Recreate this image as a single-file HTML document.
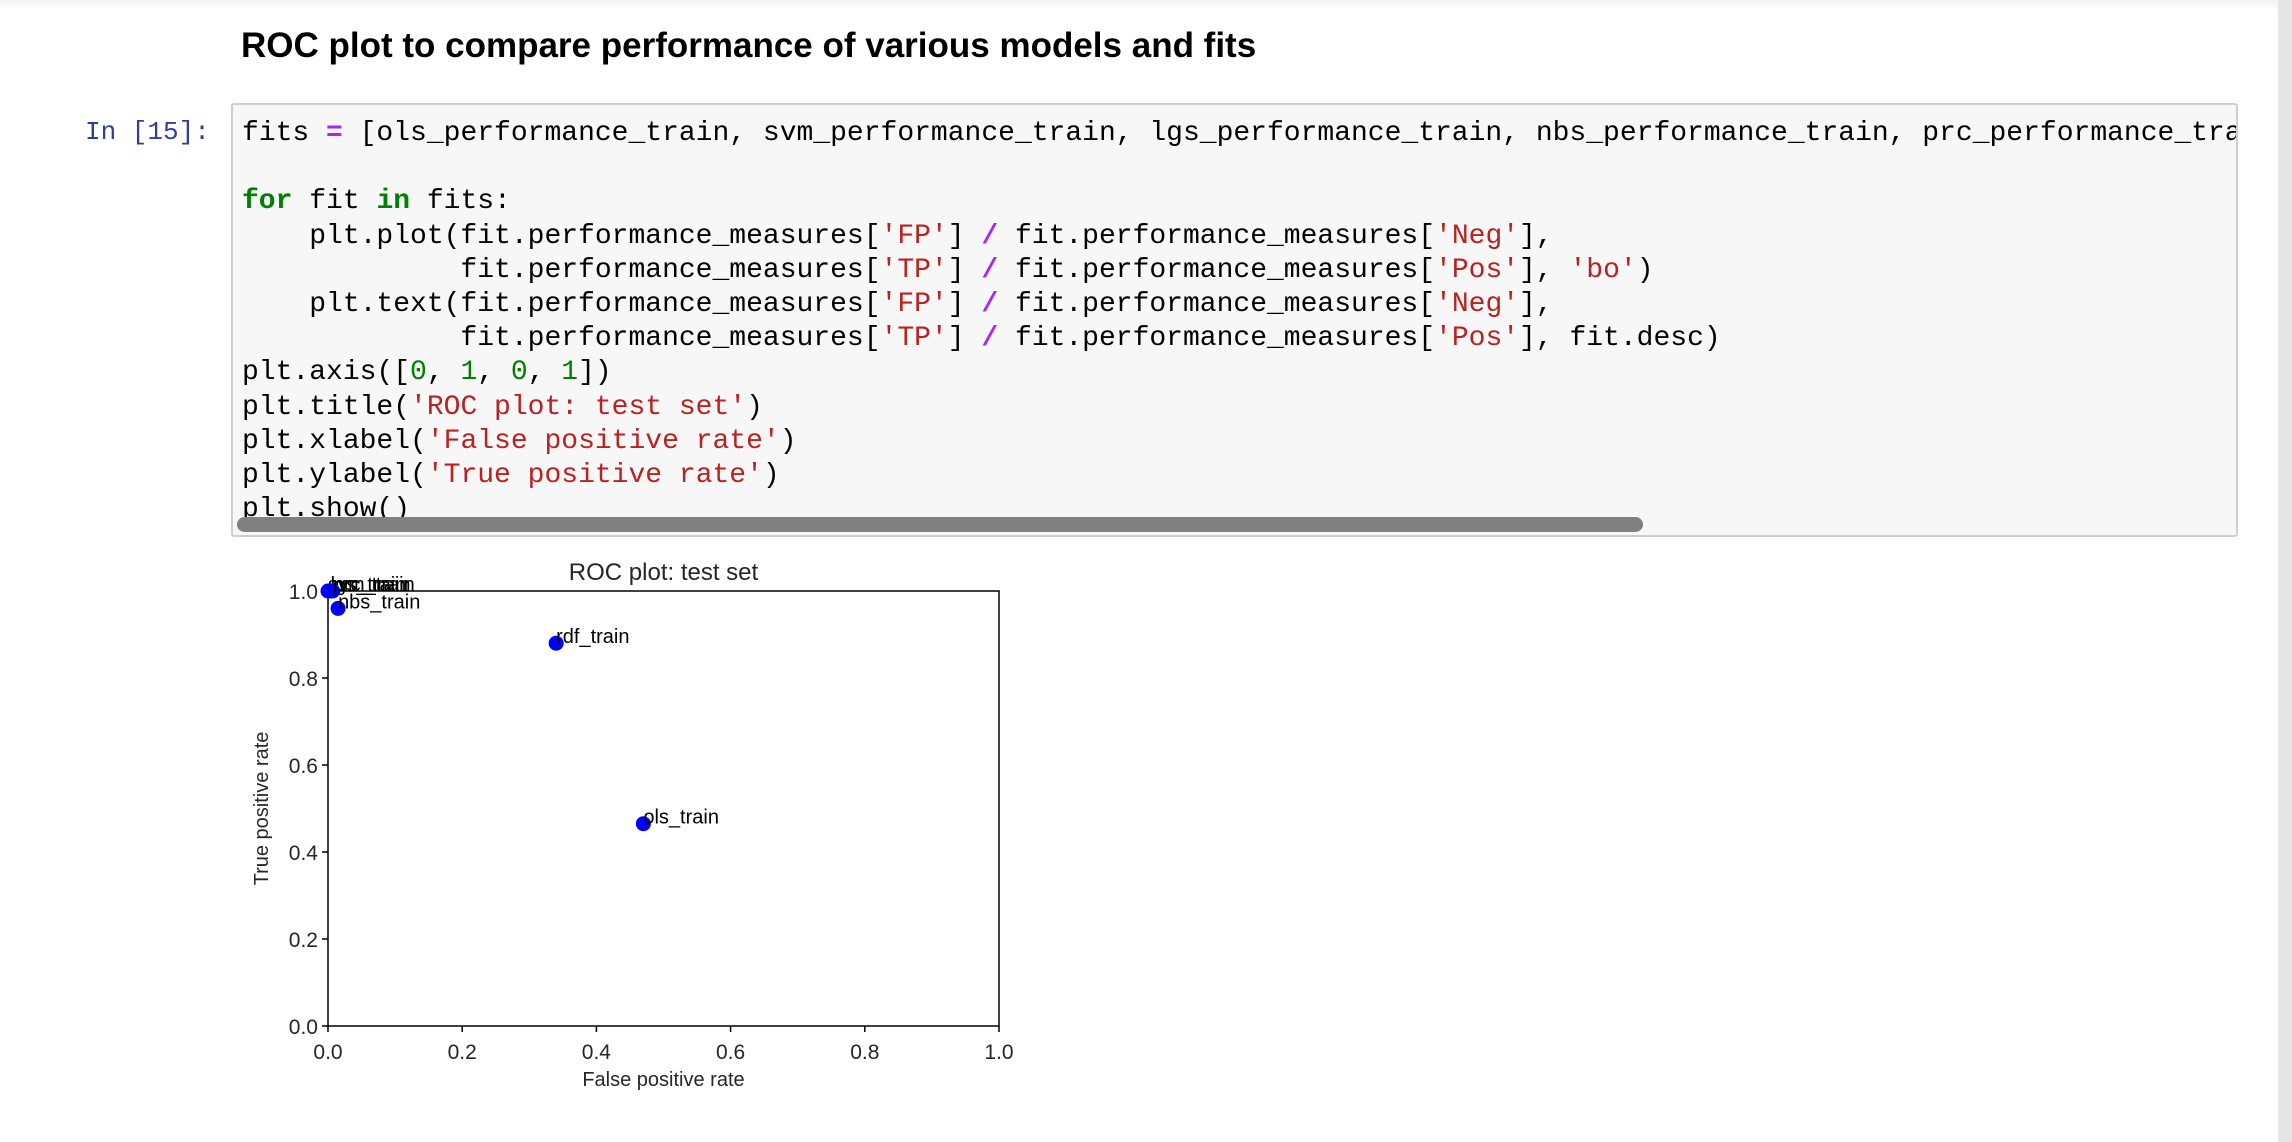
<!DOCTYPE html>
<html><head><meta charset="utf-8">
<style>
body{margin:0;width:2292px;height:1142px;background:#fff;position:relative;overflow:hidden;font-family:"Liberation Sans",sans-serif}
.topbar{position:absolute;left:0;top:0;width:2278px;height:10px;background:linear-gradient(#f2f2f2,#fff)}
.rstrip{position:absolute;left:2278px;top:0;width:14px;height:1142px;background:#e6e6e6}
h1{position:absolute;left:241px;top:26px;margin:0;font-size:35px;font-weight:bold;color:#000;letter-spacing:0}
.prompt{position:absolute;left:85px;top:115px;font:26px/34px "Liberation Mono",monospace;color:#303f9f}
.cell{position:absolute;left:231px;top:103px;width:2003px;height:430px;background:#f7f7f7;border:2px solid #cfcfcf;border-radius:3px;overflow:hidden}
pre{margin:0;position:absolute;left:9px;top:12px;font:28px/34.2px "Liberation Mono",monospace;color:#000;white-space:pre}
.k{color:#008000;font-weight:bold}.o{color:#aa22ff;font-weight:bold}.s{color:#ba2121}.n{color:#008000}
.scroll{position:absolute;left:4px;top:412px;width:1406px;height:15px;background:#808080;border-radius:8px}
svg{position:absolute;left:0;top:0}
</style></head><body>
<div class="topbar"></div>
<div class="rstrip"></div>
<h1>ROC plot to compare performance of various models and fits</h1>
<div class="prompt">In [15]:</div>
<div class="cell">
<pre>fits <span class="o">=</span> [ols_performance_train, svm_performance_train, lgs_performance_train, nbs_performance_train, prc_performance_train, rdf_performance_train]

<span class="k">for</span> fit <span class="k">in</span> fits:
    plt.plot(fit.performance_measures[<span class="s">'FP'</span>] <span class="o">/</span> fit.performance_measures[<span class="s">'Neg'</span>],
             fit.performance_measures[<span class="s">'TP'</span>] <span class="o">/</span> fit.performance_measures[<span class="s">'Pos'</span>], <span class="s">'bo'</span>)
    plt.text(fit.performance_measures[<span class="s">'FP'</span>] <span class="o">/</span> fit.performance_measures[<span class="s">'Neg'</span>],
             fit.performance_measures[<span class="s">'TP'</span>] <span class="o">/</span> fit.performance_measures[<span class="s">'Pos'</span>], fit.desc)
plt.axis([<span class="n">0</span>, <span class="n">1</span>, <span class="n">0</span>, <span class="n">1</span>])
plt.title(<span class="s">'ROC plot: test set'</span>)
plt.xlabel(<span class="s">'False positive rate'</span>)
plt.ylabel(<span class="s">'True positive rate'</span>)
plt.show()</pre>
<div class="scroll"></div>
</div>
<svg id="chart" width="2292" height="1142"></svg>
<script>
const labels=["ols_train","svm_train","lgs_train","nbs_train","prc_train","rdf_train"];
const fpr=[0.47,0.0,0.004,0.015,0.007,0.34];
const tpr=[0.465,1.0,1.0,0.96,1.0,0.88];
const ticks=["0.0","0.2","0.4","0.6","0.8","1.0"];
const tickVals=[0,0.2,0.4,0.6,0.8,1.0];
const L=328,R=999,T=591,B=1026;
const sx=v=>L+v*(R-L), sy=v=>B-v*(B-T);
const svg=document.getElementById('chart');
const NS='http://www.w3.org/2000/svg';
function mk(tag,attrs,txt){const e=document.createElementNS(NS,tag);for(const k in attrs)e.setAttribute(k,attrs[k]);if(txt!==undefined)e.textContent=txt;svg.appendChild(e);return e;}
const F='"Liberation Sans","DejaVu Sans",sans-serif';
let e;
e=mk('rect',{x:L,y:T,width:R-L,height:B-T,fill:'none',stroke:'#000','stroke-width':1.5});


tickVals.forEach((v,i)=>{
  e=mk('line',{x1:sx(v),x2:sx(v),y1:B,y2:B+6,stroke:'#000','stroke-width':1.5});
  
  
  e=mk('text',{x:sx(v),y:B+33,'text-anchor':'middle','font-size':21,'font-family':F,fill:'#262626'},ticks[i]);
  
  
  e=mk('line',{x1:L-6,x2:L,y1:sy(v),y2:sy(v),stroke:'#000','stroke-width':1.5});
  
  
  e=mk('text',{x:L-10,y:sy(v)+8,'text-anchor':'end','font-size':21,'font-family':F,fill:'#262626'},ticks[i]);
  
  
});
e=mk('text',{x:(L+R)/2,y:580,'text-anchor':'middle','font-size':24,'font-family':F,fill:'#262626'},'ROC plot: test set');


e=mk('text',{x:(L+R)/2,y:1086,'text-anchor':'middle','font-size':20,'font-family':F,fill:'#262626'},'False positive rate');


e=mk('text',{x:268,y:(T+B)/2,'text-anchor':'middle','font-size':20,'font-family':F,fill:'#262626',transform:'rotate(-90 268 '+((T+B)/2)+')'},'True positive rate');


labels.forEach((lab,i)=>{
  e=mk('circle',{cx:sx(fpr[i]),cy:sy(tpr[i]),r:7.5,fill:'#0000ff'});
  
  
  e=mk('text',{x:sx(fpr[i]),y:sy(tpr[i]),'font-size':20,'font-family':F,fill:'#000'},lab);
  
  
});
</script>
</body></html>
